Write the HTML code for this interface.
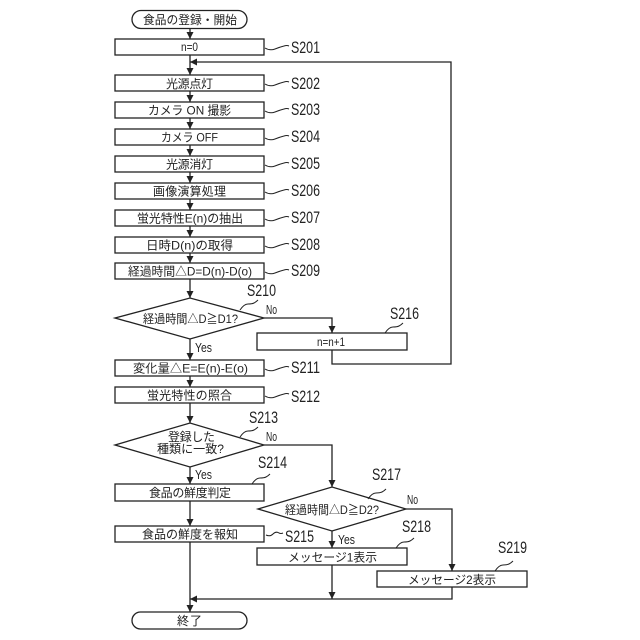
<!DOCTYPE html>
<html><head><meta charset="utf-8"><style>
html,body{margin:0;padding:0;background:#fff}
svg{display:block}
text{font-family:"Liberation Sans","Noto Sans CJK JP",sans-serif;fill:#222}
.t{font-size:12px;text-anchor:middle}
.s{font-size:16.5px}
.y{font-size:12.5px}
</style></head><body>
<svg width="640" height="640" viewBox="0 0 640 640" xmlns="http://www.w3.org/2000/svg">
<defs><marker id="a" markerUnits="userSpaceOnUse" markerWidth="8" markerHeight="8" refX="7" refY="3.500" orient="auto"><path d="M0 0L7 3.500L0 7z" fill="#222"/></marker></defs>
<g fill="none" stroke="#222" stroke-width="1.3">
<rect x="132" y="10.500" width="115" height="18" rx="9"/>
<rect x="132" y="612" width="115" height="17" rx="8.500"/>
<rect x="115" y="39" width="149" height="16"/>
<rect x="115" y="75" width="149" height="16"/>
<rect x="115" y="102" width="149" height="16"/>
<rect x="115" y="129" width="149" height="16"/>
<rect x="115" y="156" width="149" height="16"/>
<rect x="115" y="183" width="149" height="16"/>
<rect x="115" y="210" width="149" height="16"/>
<rect x="115" y="237" width="149" height="16"/>
<rect x="115" y="263" width="149" height="16"/>
<rect x="115" y="360" width="149" height="16"/>
<rect x="115" y="387" width="149" height="16"/>
<rect x="115" y="484" width="149" height="17"/>
<rect x="115" y="526" width="149" height="16"/>
<rect x="257" y="333" width="150" height="17"/>
<rect x="257" y="548" width="150" height="17"/>
<rect x="377" y="571" width="150" height="16"/>
<path d="M115 318L190 298L264 318L190 339Z"/>
<path d="M115 445L190 423L264 445L190 467Z"/>
<path d="M258 509L332 487L406 509L332 531Z"/>
<g marker-end="url(#a)">
<path d="M190 29V39"/><path d="M190 55V75"/><path d="M190 91V102"/><path d="M190 118V129"/><path d="M190 145V156"/><path d="M190 172V183"/><path d="M190 199V210"/><path d="M190 226V237"/><path d="M190 253V263"/>
<path d="M190 279V298"/><path d="M190 339V360"/><path d="M190 376V387"/><path d="M190 403V423"/><path d="M190 467V484"/><path d="M190 501V526"/>
<path d="M190 542V612"/>
<path d="M264 318H332V333"/>
<path d="M332 350V364H451V62H190"/>
<path d="M264 445H332V487"/>
<path d="M406 509H452V571"/>
<path d="M332 531V548"/>
<path d="M332 565V599"/>
<path d="M452 587V599H190"/>
</g>
<g stroke-width="1">
<path d="M265 48q5 3 10 1t9-3q3-1 5 0"/>
<path d="M265 84q5 3 10 1t9-3q3-1 5 0"/>
<path d="M265 111q5 3 10 1t9-3q3-1 5 0"/>
<path d="M265 138q5 3 10 1t9-3q3-1 5 0"/>
<path d="M265 165q5 3 10 1t9-3q3-1 5 0"/>
<path d="M265 192q5 3 10 1t9-3q3-1 5 0"/>
<path d="M265 219q5 3 10 1t9-3q3-1 5 0"/>
<path d="M265 246q5 3 10 1t9-3q3-1 5 0"/>
<path d="M265 272q5 3 10 1t9-3q3-1 5 0"/>
<path d="M265 369q5 3 10 1t9-3q3-1 5 0"/>
<path d="M265 396q5 3 10 1t9-3q3-1 5 0"/>
<path d="M266 535q4 2 7-1t6-1q2 1 4 0"/>
<path d="M240 310q4-6 8-6t6-1q2-1 4-3"/>
<path d="M240 437q4-6 8-6t6-1q2-1 4-3"/>
<path d="M252 484q4-6 8-6t6-1q2-1 4-3"/>
<path d="M368 499q4-6 8-6t6-1q2-1 4-3"/>
<path d="M385 333q4-6 8-6t6-1q2-1 4-3"/>
<path d="M396 548q4-6 8-6t6-1q2-1 4-3"/>
<path d="M495 571q4-6 8-6t6-1q2-1 4-3"/>
</g>
</g>
<g lengthAdjust="spacingAndGlyphs">
<text class="t" x="190" y="24" textLength="94" lengthAdjust="spacingAndGlyphs">食品の登録・開始</text>
<text class="t" x="189.500" y="51" textLength="17" lengthAdjust="spacingAndGlyphs">n=0</text>
<text class="t" x="189.500" y="88" textLength="47" lengthAdjust="spacing">光源点灯</text>
<text class="t" x="189.500" y="114.500" textLength="83" lengthAdjust="spacingAndGlyphs">カメラ ON 撮影</text>
<text class="t" x="189.500" y="141.500" textLength="57" lengthAdjust="spacingAndGlyphs">カメラ OFF</text>
<text class="t" x="189.500" y="168.500" textLength="47" lengthAdjust="spacing">光源消灯</text>
<text class="t" x="189.500" y="195.500" textLength="73" lengthAdjust="spacing">画像演算処理</text>
<text class="t" x="190" y="222.500" textLength="106" lengthAdjust="spacingAndGlyphs">蛍光特性E(n)の抽出</text>
<text class="t" x="189.500" y="249.500" textLength="87" lengthAdjust="spacingAndGlyphs">日時D(n)の取得</text>
<text class="t" x="190" y="275.500" textLength="124" lengthAdjust="spacingAndGlyphs">経過時間△D=D(n)-D(o)</text>
<text class="t" x="190.500" y="323" textLength="95" lengthAdjust="spacingAndGlyphs">経過時間△D≧D1?</text>
<text class="t" x="190.500" y="372.500" textLength="115" lengthAdjust="spacingAndGlyphs">変化量△E=E(n)-E(o)</text>
<text class="t" x="189.500" y="399.500" textLength="85" lengthAdjust="spacing">蛍光特性の照合</text>
<text class="t" x="191.500" y="441" textLength="47" lengthAdjust="spacing">登録した</text>
<text class="t" x="190.500" y="453" textLength="67" lengthAdjust="spacingAndGlyphs">種類に一致?</text>
<text class="t" x="190" y="497" textLength="82" lengthAdjust="spacing">食品の鮮度判定</text>
<text class="t" x="190" y="538.500" textLength="96" lengthAdjust="spacing">食品の鮮度を報知</text>
<text class="t" x="189.500" y="625" textLength="25" lengthAdjust="spacing">終了</text>
<text class="t" x="331" y="346" textLength="28" lengthAdjust="spacingAndGlyphs">n=n+1</text>
<text class="t" x="332" y="514" textLength="94" lengthAdjust="spacingAndGlyphs">経過時間△D≧D2?</text>
<text class="t" x="332.500" y="561.500" textLength="89" lengthAdjust="spacingAndGlyphs">メッセージ1表示</text>
<text class="t" x="452" y="584" textLength="88" lengthAdjust="spacingAndGlyphs">メッセージ2表示</text>
<text class="y" x="266" y="314" textLength="11" lengthAdjust="spacingAndGlyphs">No</text>
<text class="y" x="195" y="352" textLength="17" lengthAdjust="spacingAndGlyphs">Yes</text>
<text class="y" x="266" y="441" textLength="11" lengthAdjust="spacingAndGlyphs">No</text>
<text class="y" x="195" y="479" textLength="17" lengthAdjust="spacingAndGlyphs">Yes</text>
<text class="y" x="407" y="504" textLength="11" lengthAdjust="spacingAndGlyphs">No</text>
<text class="y" x="338" y="544" textLength="17" lengthAdjust="spacingAndGlyphs">Yes</text>
<text class="s" x="291" y="53" textLength="29" lengthAdjust="spacingAndGlyphs">S201</text>
<text class="s" x="291" y="89" textLength="29" lengthAdjust="spacingAndGlyphs">S202</text>
<text class="s" x="291" y="115" textLength="29" lengthAdjust="spacingAndGlyphs">S203</text>
<text class="s" x="291" y="142" textLength="29" lengthAdjust="spacingAndGlyphs">S204</text>
<text class="s" x="291" y="169" textLength="29" lengthAdjust="spacingAndGlyphs">S205</text>
<text class="s" x="291" y="196" textLength="29" lengthAdjust="spacingAndGlyphs">S206</text>
<text class="s" x="291" y="223" textLength="29" lengthAdjust="spacingAndGlyphs">S207</text>
<text class="s" x="291" y="250" textLength="29" lengthAdjust="spacingAndGlyphs">S208</text>
<text class="s" x="291" y="276" textLength="29" lengthAdjust="spacingAndGlyphs">S209</text>
<text class="s" x="247" y="296" textLength="29" lengthAdjust="spacingAndGlyphs">S210</text>
<text class="s" x="390" y="319" textLength="29" lengthAdjust="spacingAndGlyphs">S216</text>
<text class="s" x="291" y="373" textLength="29" lengthAdjust="spacingAndGlyphs">S211</text>
<text class="s" x="291" y="402" textLength="29" lengthAdjust="spacingAndGlyphs">S212</text>
<text class="s" x="249" y="423" textLength="29" lengthAdjust="spacingAndGlyphs">S213</text>
<text class="s" x="258" y="468" textLength="29" lengthAdjust="spacingAndGlyphs">S214</text>
<text class="s" x="372" y="480" textLength="29" lengthAdjust="spacingAndGlyphs">S217</text>
<text class="s" x="285" y="542" textLength="29" lengthAdjust="spacingAndGlyphs">S215</text>
<text class="s" x="402" y="532" textLength="29" lengthAdjust="spacingAndGlyphs">S218</text>
<text class="s" x="498" y="553" textLength="29" lengthAdjust="spacingAndGlyphs">S219</text>
</g>
</svg>
</body></html>
